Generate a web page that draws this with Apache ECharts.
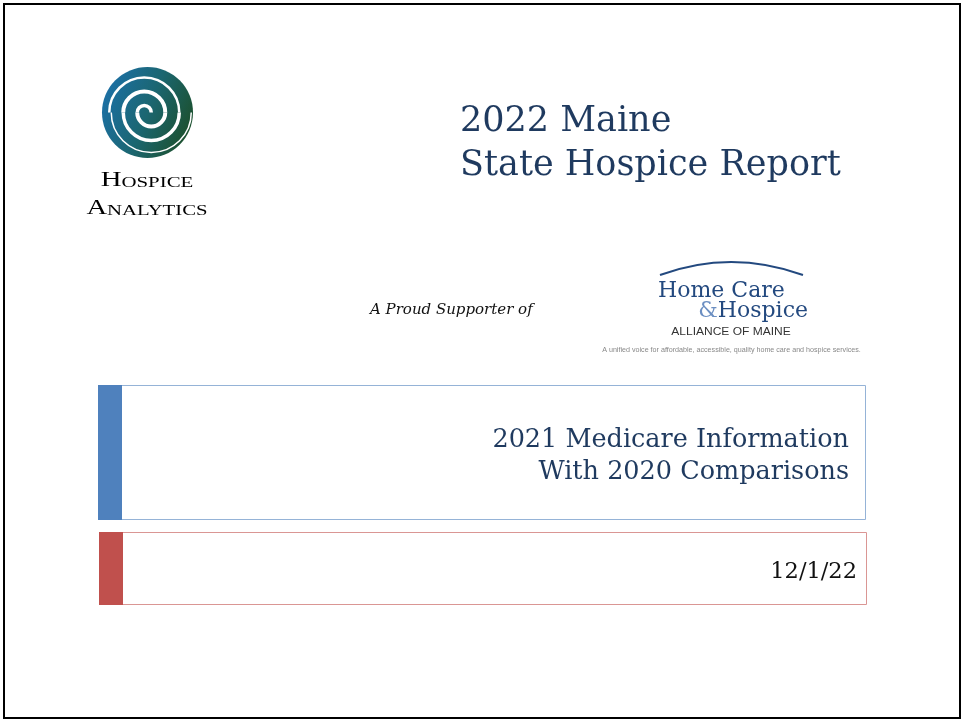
<!DOCTYPE html>
<html>
<head>
<meta charset="utf-8">
<script src="https://cdn.jsdelivr.net/npm/echarts@6/dist/echarts.min.js"></script>
<style>
html,body{margin:0;padding:0;background:#fff;}
#chart{width:963px;height:721px;}
</style>
</head>
<body>
<div id="chart"></div>
<script>
// Slide text content
const titleLines = ['2022 Maine', 'State Hospice Report'];
const subtitleLines = ['2021 Medicare Information', 'With 2020 Comparisons'];
const dateLabel = ['12/1/22'];
const supporterLabel = ['A Proud Supporter of'];
const logoWords = ['Hospice', 'Analytics'];
const allianceLines = ['Home Care', '&', 'Hospice', 'ALLIANCE OF MAINE',
  'A unified voice for affordable, accessible, quality home care and hospice services.'];

const navy = '#1F3A5F';
const hcNavy = '#23497F';
const PI = Math.PI;

function smallCaps(word) {
  return '{b|' + word.charAt(0).toUpperCase() + '}{s|' + word.slice(1).toUpperCase() + '}';
}
function spiralArc(cx, r, top, w) {
  return {type: 'arc', shape: {cx: cx, cy: 112.5, r: r,
    startAngle: top ? PI : 0, endAngle: top ? 2 * PI : PI, clockwise: true},
    style: {fill: null, stroke: '#fff', lineWidth: w}};
}
const smallCapsRich = {
  b: {fontFamily: 'Liberation Serif', fontSize: 20, fill: '#000', color: '#000', verticalAlign: 'bottom', lineHeight: 20},
  s: {fontFamily: 'Liberation Serif', fontSize: 14.5, fill: '#000', color: '#000', verticalAlign: 'bottom', lineHeight: 16}
};

const chart = echarts.init(document.getElementById('chart'), null, {renderer: 'canvas'});

const graphics = [
  // slide border
  {type: 'rect', shape: {x: 4, y: 4, width: 956, height: 714},
   style: {fill: '#fff', stroke: '#000', lineWidth: 2}},

  // Hospice Analytics logo circle
  {type: 'circle', shape: {cx: 147.5, cy: 112.5, r: 45.5},
   style: {fill: new echarts.graphic.LinearGradient(0, 0.3, 1, 0.7, [
     {offset: 0, color: '#1C70A6'}, {offset: 0.5, color: '#1B6670'}, {offset: 1, color: '#1C4F2A'}])}},
  spiralArc(144.25, 7, true, 3.5),
  spiralArc(151.25, 14, false, 4),
  spiralArc(144.25, 21, true, 4),
  spiralArc(151.25, 28, false, 3.5),
  spiralArc(144.25, 35, true, 2.5),
  spiralArc(151.25, 40, false, 1.5),
  {type: 'text', x: 147, y: 181, scaleX: 1.44,
   style: {text: smallCaps(logoWords[0]), textAlign: 'center', textVerticalAlign: 'middle', rich: smallCapsRich}},
  {type: 'text', x: 147, y: 209, scaleX: 1.43,
   style: {text: smallCaps(logoWords[1]), textAlign: 'center', textVerticalAlign: 'middle', rich: smallCapsRich}},

  // Title
  {type: 'text', x: 460, y: 122, style: {text: titleLines[0], font: '35px "DejaVu Serif"', fill: navy,
    textAlign: 'left', textVerticalAlign: 'middle'}},
  {type: 'text', x: 460, y: 165.5, style: {text: titleLines[1], font: '35px "DejaVu Serif"', fill: navy,
    textAlign: 'left', textVerticalAlign: 'middle'}},

  // Supporter
  {type: 'text', x: 370, y: 310.5, style: {text: supporterLabel[0], font: 'italic 15px "DejaVu Serif"', fill: '#111',
    textAlign: 'left', textVerticalAlign: 'middle'}},

  // Home Care & Hospice Alliance logo
  {type: 'bezierCurve', shape: {x1: 660, y1: 275, cpx1: 731, cpy1: 249, x2: 803, y2: 275},
   style: {fill: null, stroke: hcNavy, lineWidth: 2}},
  {type: 'text', x: 658, y: 291, style: {text: allianceLines[0], font: '22px "DejaVu Serif"', fill: hcNavy,
    textAlign: 'left', textVerticalAlign: 'middle'}},
  {type: 'text', x: 808, y: 311, style: {text: '{a|' + allianceLines[1] + '}{h|' + allianceLines[2] + '}',
    textAlign: 'right', textVerticalAlign: 'middle',
    rich: {a: {fontFamily: 'DejaVu Serif', fontSize: 22, fill: '#6C8FC2', color: '#6C8FC2'},
           h: {fontFamily: 'DejaVu Serif', fontSize: 22, fill: hcNavy, color: hcNavy}}}},
  {type: 'text', x: 731, y: 332, scaleX: 1.2, style: {text: allianceLines[3], font: '10px "Liberation Sans"', fill: '#333',
    textAlign: 'center', textVerticalAlign: 'middle'}},
  {type: 'text', x: 731.5, y: 350, style: {text: allianceLines[4], font: '7.15px "Liberation Sans"', fill: '#888',
    textAlign: 'center', textVerticalAlign: 'middle'}},

  // Subtitle box
  {type: 'rect', shape: {x: 98.5, y: 385.5, width: 767, height: 134},
   style: {fill: '#fff', stroke: '#95B3D7', lineWidth: 1}},
  {type: 'rect', shape: {x: 98, y: 385, width: 24, height: 135}, style: {fill: '#4F81BD'}},
  {type: 'text', x: 849, y: 440.5, style: {text: subtitleLines[0], font: '25.5px "DejaVu Serif"', fill: navy,
    textAlign: 'right', textVerticalAlign: 'middle'}},
  {type: 'text', x: 849, y: 472.5, style: {text: subtitleLines[1], font: '25.5px "DejaVu Serif"', fill: navy,
    textAlign: 'right', textVerticalAlign: 'middle'}},

  // Date box
  {type: 'rect', shape: {x: 99.5, y: 532.5, width: 767, height: 72},
   style: {fill: '#fff', stroke: '#DA9694', lineWidth: 1}},
  {type: 'rect', shape: {x: 99, y: 532, width: 24, height: 73}, style: {fill: '#C0504D'}},
  {type: 'text', x: 857, y: 572, style: {text: dateLabel[0], font: '22.5px "DejaVu Serif"', fill: '#111',
    textAlign: 'right', textVerticalAlign: 'middle'}}
];

chart.setOption({
  backgroundColor: '#fff',
  animation: false,
  graphic: {elements: graphics}
});
</script>
</body>
</html>
